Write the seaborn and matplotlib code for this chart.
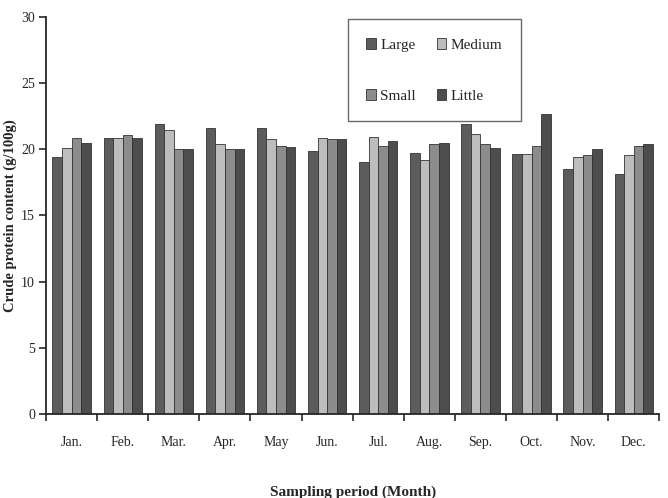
import pandas as pd
import numpy as np
import matplotlib
matplotlib.use("Agg")
import matplotlib.pyplot as plt
import seaborn as sns

# Monthly crude protein content (g/100g) by size class
months = ["Jan.", "Feb.", "Mar.", "Apr.", "May", "Jun.", "Jul.", "Aug.", "Sep.", "Oct.", "Nov.", "Dec."]
large = [19.45, 20.84, 21.9, 21.6, 21.6, 19.85, 19.02, 19.75, 21.87, 19.63, 18.5, 18.14]
medium = [20.08, 20.84, 21.47, 20.4, 20.76, 20.84, 20.94, 19.15, 21.16, 19.63, 19.43, 19.6]
small = [20.84, 21.06, 20.0, 20.0, 20.28, 20.76, 20.28, 20.38, 20.4, 20.28, 19.53, 20.28]
little = [20.5, 20.84, 20.0, 20.0, 20.2, 20.8, 20.63, 20.5, 20.08, 22.65, 20.05, 20.38]
sizes = ["Large", "Medium", "Small", "Little"]

df = pd.DataFrame({"Large": large, "Medium": medium, "Small": small, "Little": little}, index=months)
df = df.reset_index(names="month").melt(id_vars="month", var_name="size", value_name="protein")

sns.set_style("ticks")
plt.rcParams["font.family"] = ["Liberation Serif", "DejaVu Serif"]

palette = {"Large": "#5c5c5c", "Medium": "#bdbdbd", "Small": "#8c8c8c", "Little": "#4d4d4d"}

fig, ax = plt.subplots(figsize=(6.68, 4.98), dpi=100)
fig.subplots_adjust(left=0.069, right=0.987, bottom=0.169, top=0.966)

sns.barplot(data=df, x="month", y="protein", hue="size", hue_order=sizes,
            palette=palette, width=0.75, edgecolor="#333333", linewidth=0.6,
            saturation=1, ax=ax)

ax.set_xlim(-0.5, len(months) - 0.5)
ax.set_ylim(0, 30)
ax.set_yticks([0, 5, 10, 15, 20, 25, 30])
ax.tick_params(axis="y", labelsize=10, length=5, width=1.2, direction="out", pad=3)
ax.tick_params(axis="x", which="major", length=0, labelsize=10, pad=16)
ax.set_xticks(np.arange(len(months) + 1) - 0.5, minor=True)
ax.tick_params(axis="x", which="minor", length=5, width=1.2, direction="out")

for side in ["top", "right"]:
    ax.spines[side].set_visible(False)
ax.spines["left"].set_linewidth(1.3)
ax.spines["bottom"].set_linewidth(1.3)

ax.set_xlabel("Sampling period (Month)", fontsize=11, fontweight="bold", labelpad=26)
ax.set_ylabel("Crude protein content (g/100g)", fontsize=10.5, fontweight="bold", labelpad=3)

# row-wise legend: Large, Medium / Small, Little
handles, labels = ax.get_legend_handles_labels()
order = [0, 2, 1, 3]
leg = ax.legend([handles[i] for i in order], [labels[i] for i in order],
                ncol=2, loc="upper left", bbox_to_anchor=(0.48, 1.013),
                fontsize=11, frameon=True, fancybox=False, edgecolor="#444444",
                handlelength=0.6, handleheight=0.8, handletextpad=0.3,
                columnspacing=1.4, labelspacing=2.4, borderpad=1.2)
leg.get_frame().set_linewidth(1.0)

plt.savefig("out.png", dpi=100)
